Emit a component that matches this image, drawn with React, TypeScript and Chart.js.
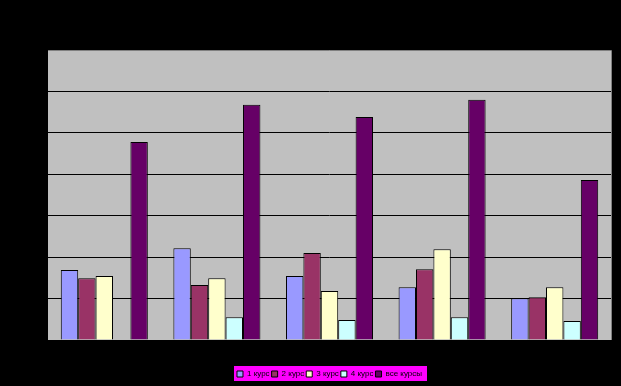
import React, { useEffect, useRef } from "react";
import { Chart, registerables } from "chart.js";

Chart.register(...registerables);

const categories = ["1", "2", "3", "4", "5"];
const seriesNames = ["1 курс", "2 курс", "3 курс", "4 курс", "все курсы"];
const kurs1 = [8.45, 11.07, 7.72, 6.36, 5.03];
const kurs2 = [7.45, 6.64, 10.5, 8.53, 5.15];
const kurs3 = [7.72, 7.45, 5.91, 10.95, 6.36];
const kurs4 = [0, 2.74, 2.41, 2.74, 2.29];
const vseKursy = [23.9, 28.4, 26.9, 29.0, 19.3];
const yMin = 0;
const yMax = 35;
const yStep = 5;

const colors = ["#9999FF", "#993366", "#FFFFCC", "#CCFFFF", "#660066"];

const bgPlugin = {
  id: "bgPlugin",
  beforeDraw(chart: any) {
    const { ctx, chartArea } = chart;
    ctx.save();
    ctx.fillStyle = "#000000";
    ctx.fillRect(0, 0, chart.width, chart.height);
    ctx.fillStyle = "#C0C0C0";
    ctx.fillRect(chartArea.left, chartArea.top, chartArea.right - chartArea.left, chartArea.bottom - chartArea.top);
    const hb = chart.legend && chart.legend.legendHitBoxes;
    if (hb && hb.length) {
      let l = Infinity, r = -Infinity, t = Infinity, b = -Infinity;
      for (const h of hb) {
        l = Math.min(l, h.left);
        r = Math.max(r, h.left + h.width);
        t = Math.min(t, h.top);
        b = Math.max(b, h.top + h.height);
      }
      ctx.fillStyle = "#FF00FF";
      ctx.fillRect(Math.round(l - 3), Math.round(t - 4), Math.round(r - l + 8), Math.round(b - t + 7));
    }
    ctx.restore();
  },
  beforeDatasetsDraw(chart: any) {
    const { ctx, chartArea } = chart;
    ctx.save();
    ctx.strokeStyle = "#808080";
    ctx.lineWidth = 1;
    ctx.beginPath();
    ctx.moveTo(Math.round(chartArea.left), Math.round(chartArea.top) + 0.5);
    ctx.lineTo(Math.round(chartArea.right) + 0.5, Math.round(chartArea.top) + 0.5);
    ctx.lineTo(Math.round(chartArea.right) + 0.5, Math.round(chartArea.bottom));
    ctx.stroke();
    ctx.restore();
  },
};

export default function App() {
  const ref = useRef<HTMLCanvasElement | null>(null);

  useEffect(() => {
    document.body.style.margin = "0";
    document.body.style.background = "#000";
    const seriesData = [kurs1, kurs2, kurs3, kurs4, vseKursy];
    const chart = new Chart(ref.current as HTMLCanvasElement, {
      type: "bar",
      data: {
        labels: categories,
        datasets: seriesNames.map((name, i) => ({
          label: name,
          data: seriesData[i],
          backgroundColor: colors[i],
          borderColor: "#000000",
          borderWidth: 1,
          categoryPercentage: 0.773,
          barPercentage: 1,
        })),
      },
      options: {
        animation: false,
        responsive: false,
        devicePixelRatio: 1,
        layout: { padding: { left: 48, right: 10, top: 50, bottom: 4 } },
        plugins: {
          tooltip: { enabled: false },
          legend: {
            position: "bottom",
            maxHeight: 14,
            labels: {
              boxWidth: 6,
              boxHeight: 6,
              padding: 2,
              color: "#000000",
              font: { size: 8, family: "'Liberation Sans', Arial, sans-serif" },
            },
          },
        },
        scales: {
          x: {
            ticks: { display: false },
            grid: { display: false },
            border: { display: false },
            afterFit: (s: any) => {
              s.height = 28;
            },
          },
          y: {
            min: yMin,
            max: yMax,
            ticks: { display: false, stepSize: yStep },
            grid: {
              drawTicks: false,
              color: (c: any) => (c.tick && c.tick.value >= yMax ? "rgba(0,0,0,0)" : "#000000"),
              lineWidth: 1,
            },
            border: { display: false },
            afterFit: (s: any) => {
              s.width = 0;
            },
          },
        },
      },
      plugins: [bgPlugin],
    });
    return () => chart.destroy();
  }, []);

  return (
    <div style={{ width: 621, height: 386, background: "#000" }}>
      <canvas ref={ref} width={621} height={386} />
    </div>
  );
}
